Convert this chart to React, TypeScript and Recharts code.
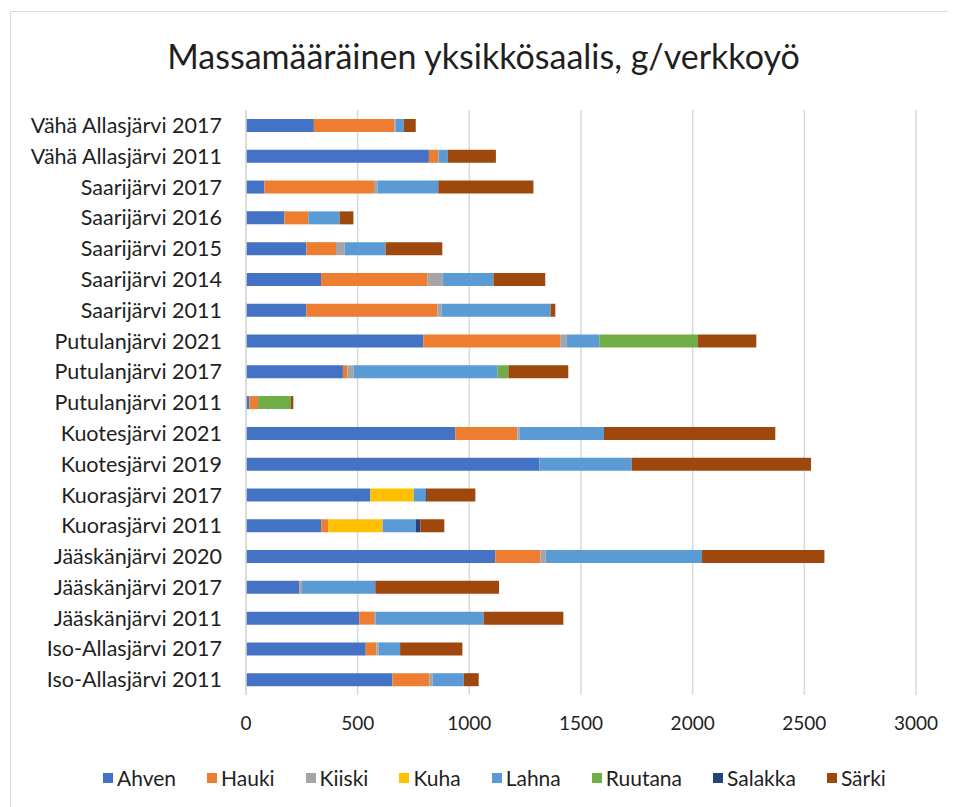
import { Bar, BarChart, CartesianGrid, Legend, XAxis, YAxis } from 'recharts';

const lakes = [
  'Vähä Allasjärvi 2017',
  'Vähä Allasjärvi 2011',
  'Saarijärvi 2017',
  'Saarijärvi 2016',
  'Saarijärvi 2015',
  'Saarijärvi 2014',
  'Saarijärvi 2011',
  'Putulanjärvi 2021',
  'Putulanjärvi 2017',
  'Putulanjärvi 2011',
  'Kuotesjärvi 2021',
  'Kuotesjärvi 2019',
  'Kuorasjärvi 2017',
  'Kuorasjärvi 2011',
  'Jääskänjärvi 2020',
  'Jääskänjärvi 2017',
  'Jääskänjärvi 2011',
  'Iso-Allasjärvi 2017',
  'Iso-Allasjärvi 2011',
];

const ahven = [304, 819, 82, 172, 270, 336, 270, 794, 434, 15, 937, 1313, 557, 337, 1116, 239, 507, 536, 655];
const hauki = [360, 41, 491, 107, 133, 476, 587, 613, 20, 39, 278, 0, 0, 32, 202, 0, 66, 48, 166];
const kiiski = [5, 3, 17, 0, 39, 69, 19, 29, 28, 0, 9, 0, 0, 0, 24, 12, 8, 10, 15];
const kuha = [0, 0, 0, 0, 0, 0, 0, 0, 0, 0, 0, 0, 194, 243, 0, 0, 0, 0, 0];
const lahna = [38, 41, 271, 140, 183, 227, 488, 146, 645, 0, 379, 414, 53, 148, 700, 328, 483, 96, 139];
const ruutana = [0, 0, 0, 0, 0, 0, 0, 442, 48, 147, 0, 0, 0, 0, 0, 0, 0, 0, 0];
const salakka = [0, 0, 0, 0, 0, 0, 0, 0, 0, 0, 0, 0, 6, 21, 0, 0, 0, 0, 0];
const sarki = [53, 215, 426, 62, 254, 232, 21, 261, 268, 11, 767, 803, 217, 107, 548, 554, 357, 279, 67];

const xTicks = [0, 500, 1000, 1500, 2000, 2500, 3000];

const series = [
  { key: 'Ahven', values: ahven, color: '#4472C4' },
  { key: 'Hauki', values: hauki, color: '#ED7D31' },
  { key: 'Kiiski', values: kiiski, color: '#A5A5A5' },
  { key: 'Kuha', values: kuha, color: '#FFC000' },
  { key: 'Lahna', values: lahna, color: '#5B9BD5' },
  { key: 'Ruutana', values: ruutana, color: '#70AD47' },
  { key: 'Salakka', values: salakka, color: '#264478' },
  { key: 'Särki', values: sarki, color: '#9E480E' },
];

const data = lakes.map((lake, i) => {
  const row: Record<string, string | number> = { lake };
  series.forEach((s) => {
    row[s.key] = s.values[i];
  });
  return row;
});

const FONT = 'Lato, "Open Sans", sans-serif';
const TEXT = '#1f1f1f';

function LegendContent() {
  return (
    <div
      style={{
        display: 'flex',
        justifyContent: 'flex-start',
        paddingLeft: 92,
        paddingTop: 2,
        gap: 31,
        fontFamily: FONT,
        fontSize: 21,
        color: TEXT,
      }}
    >
      {series.map((s) => (
        <span key={s.key} style={{ display: 'inline-flex', alignItems: 'center', gap: 4 }}>
          <span style={{ width: 10, height: 10, background: s.color, display: 'inline-block' }} />
          {s.key}
        </span>
      ))}
    </div>
  );
}

export default function App() {
  return (
    <div
      style={{
        position: 'relative',
        marginLeft: 2,
        marginTop: 3,
        width: 946,
        height: 796,
        borderTop: '1px solid #d9d9d9',
        borderLeft: '1px solid #d9d9d9',
        background: '#fff',
      }}
    >
      <div
        style={{
          position: 'absolute',
          top: 24,
          left: 0,
          width: 945,
          textAlign: 'center',
          fontFamily: FONT,
          fontSize: 34,
          lineHeight: '40px',
          color: TEXT,
        }}
      >
        Massamääräinen yksikkösaalis, g/verkkoyö
      </div>
      <BarChart
        width={945}
        height={795}
        data={data}
        layout="vertical"
        barSize={13}
        margin={{ top: 98, right: 40, left: 0, bottom: 14 }}
      >
        <CartesianGrid horizontal={false} stroke="#d9d9d9" strokeWidth={1.5} />
        <XAxis
          type="number"
          domain={[0, 3000]}
          ticks={xTicks}
          axisLine={false}
          tickLine={false}
          tickSize={0}
          tickMargin={22}
          height={68}
          interval={0}
          tick={{ fill: TEXT, fontSize: 19, fontFamily: FONT }}
        />
        <YAxis
          type="category"
          dataKey="lake"
          width={235}
          axisLine={{ stroke: '#d9d9d9', strokeWidth: 1.5 }}
          tickLine={false}
          tickSize={0}
          tickMargin={24}
          interval={0}
          tick={{ fill: TEXT, fontSize: 21.5, fontFamily: FONT }}
        />
        <Legend verticalAlign="bottom" height={30} content={() => <LegendContent />} />
        {series.map((s) => (
          <Bar key={s.key} dataKey={s.key} stackId="a" fill={s.color} isAnimationActive={false} />
        ))}
      </BarChart>
    </div>
  );
}
